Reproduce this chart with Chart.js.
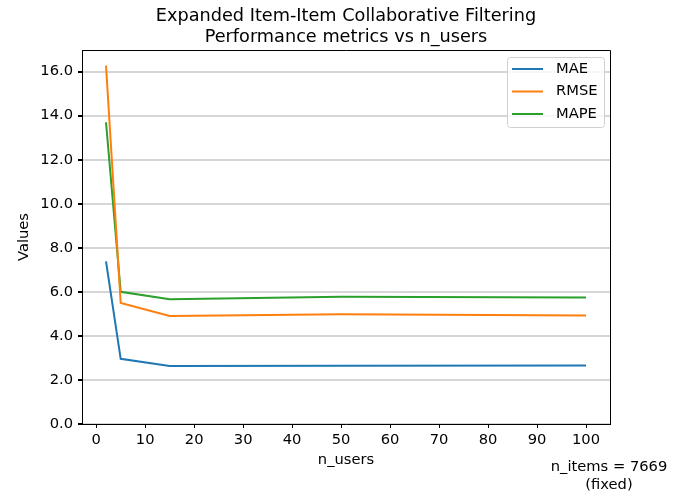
<!DOCTYPE html>
<html><head><meta charset="utf-8">
<script src="https://cdn.jsdelivr.net/npm/chart.js@4.4.0/dist/chart.umd.min.js"></script>
<style>html,body{margin:0;padding:0;background:#fff}#wrap{width:683px;height:495px}</style>
</head><body><div id="wrap"><canvas id="c" width="683" height="495"></canvas></div>
<script>
const nUsers = [2, 5, 15, 50, 100];
const maeValues = [7.38, 2.96, 2.63, 2.65, 2.66];
const rmseValues = [16.27, 5.50, 4.90, 4.98, 4.93];
const mapeValues = [13.70, 6.00, 5.66, 5.78, 5.74];
const xTicks = [0,10,20,30,40,50,60,70,80,90,100];
const yTicks = [0,2,4,6,8,10,12,14,16];
const titleLines = ['Expanded Item-Item Collaborative Filtering', 'Performance metrics vs n_users'];
const noteLines = ['n_items = 7669', '(fixed)'];
const FONT = 'DejaVu Sans';
const FS = 14.7, TFS = 17.7;

const pts = arr => nUsers.map((x,i)=>({x, y: arr[i]}));
const series = [
  {label:'MAE', data: pts(maeValues), color:'#1f77b4'},
  {label:'RMSE', data: pts(rmseValues), color:'#ff7f0e'},
  {label:'MAPE', data: pts(mapeValues), color:'#2ca02c'}
];

const decor = {
  id:'decor',
  afterDraw(chart){
    const ctx = chart.ctx, a = chart.chartArea;
    ctx.save();
    ctx.strokeStyle = '#000'; ctx.lineWidth = 1;
    ctx.beginPath();
    ctx.moveTo(a.left, a.top+0.5); ctx.lineTo(a.right+0.5, a.top+0.5); ctx.lineTo(a.right+0.5, a.bottom);
    ctx.stroke();
    ctx.fillStyle = '#000'; ctx.textAlign = 'center'; ctx.textBaseline = 'middle';
    ctx.font = TFS + 'px "' + FONT + '"';
    const cx = (a.left + a.right)/2;
    ctx.fillText(titleLines[0], cx, 16);
    ctx.fillText(titleLines[1], cx, 37);
    ctx.font = FS + 'px "' + FONT + '"';
    ctx.fillText(noteLines[0], 609, 467);
    ctx.fillText(noteLines[1], 609, 485);
    const lx = 507, ly = 57, lw = 97, lh = 70;
    ctx.fillStyle = 'rgba(255,255,255,0.8)';
    ctx.strokeStyle = '#d0d0d0'; ctx.lineWidth = 1;
    ctx.beginPath();
    if (ctx.roundRect) ctx.roundRect(lx+0.5, ly+0.5, lw, lh, 3); else ctx.rect(lx+0.5, ly+0.5, lw, lh);
    ctx.fill(); ctx.stroke();
    ctx.textAlign = 'left';
    series.forEach((s,i)=>{
      const y = 69 + i*22.5;
      ctx.strokeStyle = s.color; ctx.lineWidth = 2;
      ctx.beginPath(); ctx.moveTo(512, y); ctx.lineTo(543, y); ctx.stroke();
      ctx.fillStyle = '#000';
      ctx.fillText(s.label, 556, y);
    });
    ctx.restore();
  }
};

new Chart(document.getElementById('c'), {
  type:'line',
  data:{datasets: series.map(s=>({label:s.label, data:s.data, borderColor:s.color, backgroundColor:s.color, borderWidth:2, pointRadius:0, tension:0, fill:false}))},
  options:{
    responsive:false, animation:false,
    layout:{padding:{top:50, right:73, left:0, bottom:0}},
    plugins:{legend:{display:false}, title:{display:false}, tooltip:{enabled:false}},
    scales:{
      x:{type:'linear', min:-2.9, max:104.9,
        afterBuildTicks(s){ s.ticks = xTicks.map(v=>({value:v})); },
        afterFit(s){ s.height = 71; },
        grid:{display:true, color:'rgba(0,0,0,0)', tickColor:'#000', tickLength:4, drawTicks:true},
        border:{display:true, color:'#000', width:1},
        ticks:{color:'#000', font:{family:FONT, size:FS}, padding:3, maxRotation:0, autoSkip:false, callback:v=>String(v)},
        title:{display:true, text:'n_users', color:'#000', font:{family:FONT, size:FS}, padding:{top:0, bottom:26}}
      },
      y:{type:'linear', min:0, max:16.98,
        afterBuildTicks(s){ s.ticks = yTicks.map(v=>({value:v})); },
        afterFit(s){ s.width = 82; },
        grid:{display:true, color:'#d6d6d6', lineWidth:2, tickColor:'#000', tickLength:4, drawTicks:true},
        border:{display:true, color:'#000', width:1},
        ticks:{color:'#000', font:{family:FONT, size:FS}, padding:5, autoSkip:false, callback:v=>Number(v).toFixed(1)},
        title:{display:true, text:'Values', color:'#000', font:{family:FONT, size:FS}, padding:{top:15, bottom:0}}
      }
    }
  },
  plugins:[decor]
});
</script></body></html>
